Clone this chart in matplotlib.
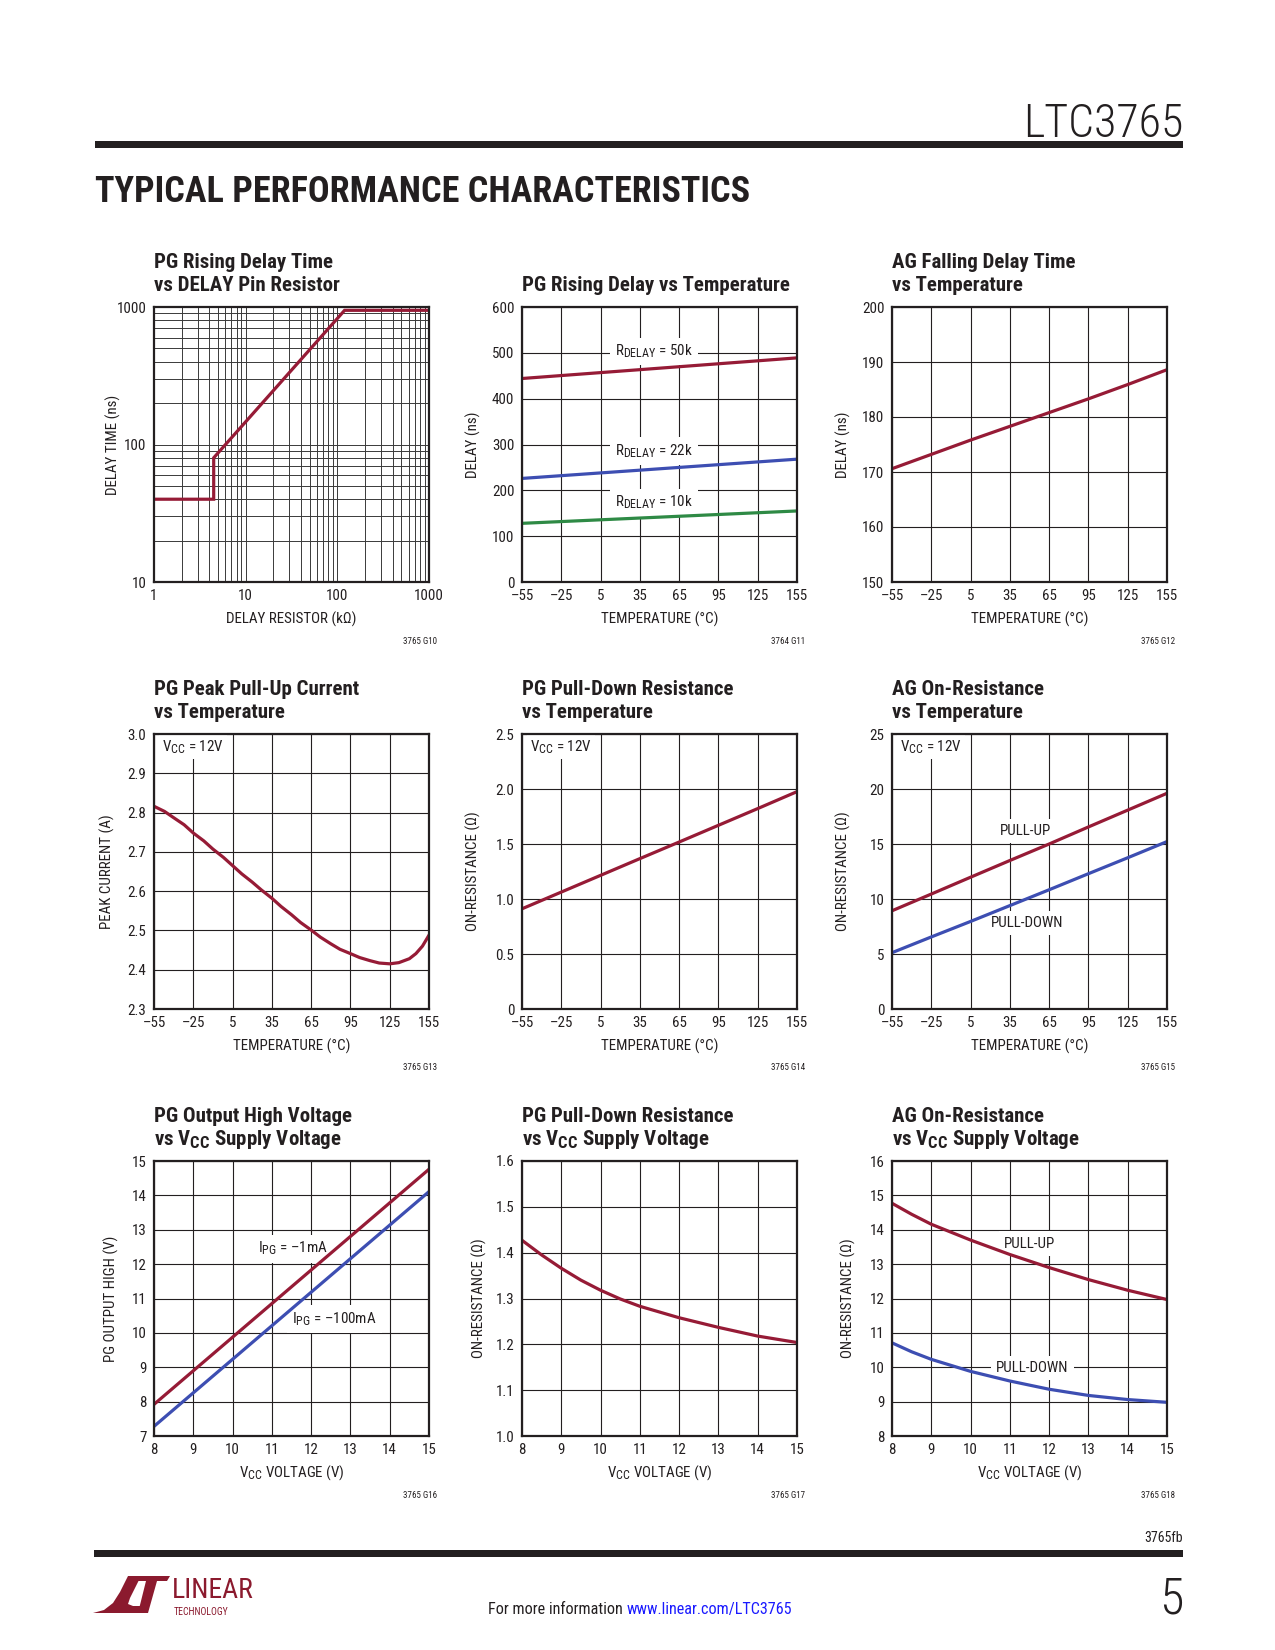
import matplotlib
matplotlib.use('Agg')
import matplotlib.pyplot as plt
from matplotlib import font_manager as fm
from matplotlib.patches import Polygon, Rectangle
from matplotlib.ticker import FixedLocator, FixedFormatter, NullFormatter, LogLocator

try:
    import matplotlib._mathtext as _mt
    _mt.SHRINK_FACTOR = 0.8
except Exception:
    pass

_names = {f.name for f in fm.fontManager.ttflist}


def pick(cands, default='DejaVu Sans'):
    for c in cands:
        if c in _names:
            return c
    return default


BODY = pick(['Roboto Condensed', 'Archivo Narrow', 'PT Sans Narrow', 'IBM Plex Sans Condensed',
             'Liberation Sans Narrow', 'Liberation Sans'])
FONT = [BODY, 'DejaVu Sans']
plt.rcParams['font.family'] = FONT
plt.rcParams['mathtext.fontset'] = 'custom'
plt.rcParams['mathtext.rm'] = BODY
plt.rcParams['mathtext.it'] = BODY + ':italic'
plt.rcParams['mathtext.bf'] = BODY + ':bold'

INK = '#231f20'
RED = '#961b36'
BLUE = '#3d4eb2'
GREEN = '#2e8a45'

# ---------------- data ----------------
temp_ticks = [-55, -25, 5, 35, 65, 95, 125, 155]
temp_tick_labels = ['\u201355', '\u201325', '5', '35', '65', '95', '125', '155']
vcc_ticks = [8, 9, 10, 11, 12, 13, 14, 15]
vcc_tick_labels = ['8', '9', '10', '11', '12', '13', '14', '15']

# G10: PG rising delay vs DELAY pin resistor (log-log)
res_kohm = [1.06, 4.48, 4.48, 120, 1000]
delay_vs_res_ns = [40, 40, 80, 946, 946]
g10_xticks = [1, 10, 100, 1000]
g10_xlabels = ['1', '10', '100', '1000']
g10_yticks = [10, 100, 1000]
g10_ylabels = ['10', '100', '1000']

# G11: PG rising delay vs temperature
g11_temp = [-55, 155]
delay_50k = [444, 489]
delay_22k = [226, 268]
delay_10k = [128, 155]
g11_yticks = [0, 100, 200, 300, 400, 500, 600]
g11_ylabels = ['0', '100', '200', '300', '400', '500', '600']

# G12: AG falling delay vs temperature
g12_temp = [-55, -25, 5, 35, 65, 95, 125, 155]
ag_fall_delay = [170.6, 173.2, 175.8, 178.3, 180.8, 183.3, 185.9, 188.6]
g12_yticks = [150, 160, 170, 180, 190, 200]
g12_ylabels = ['150', '160', '170', '180', '190', '200']

# G13: PG peak pull-up current vs temperature
g13_temp = [-55, -47, -40, -32, -25, -17, -10, -2, 5, 12, 20, 27, 35, 42, 50, 57, 65, 72,
            80, 87, 95, 102, 110, 117, 125, 132, 140, 145, 150, 155]
peak_current = [2.816, 2.803, 2.787, 2.769, 2.748, 2.728, 2.707, 2.686, 2.665, 2.644,
                2.623, 2.603, 2.582, 2.561, 2.540, 2.520, 2.501, 2.483, 2.466, 2.452,
                2.441, 2.431, 2.423, 2.417, 2.415, 2.418, 2.428, 2.441, 2.460, 2.488]
g13_yticks = [2.3, 2.4, 2.5, 2.6, 2.7, 2.8, 2.9, 3.0]
g13_ylabels = ['2.3', '2.4', '2.5', '2.6', '2.7', '2.8', '2.9', '3.0']

# G14: PG pull-down resistance vs temperature
g14_temp = [-55, -25, 5, 35, 65, 95, 125, 155]
pg_pd_res_t = [0.911, 1.063, 1.215, 1.367, 1.518, 1.670, 1.822, 1.976]
g14_yticks = [0, 0.5, 1.0, 1.5, 2.0, 2.5]
g14_ylabels = ['0', '0.5', '1.0', '1.5', '2.0', '2.5']

# G15: AG on-resistance vs temperature
g15_temp = [-55, -25, 5, 35, 65, 95, 125, 155]
ag_pullup_t = [8.93, 10.45, 11.98, 13.50, 15.00, 16.55, 18.08, 19.61]
ag_pulldown_t = [5.12, 6.55, 7.96, 9.40, 10.84, 12.30, 13.75, 15.22]
g15_yticks = [0, 5, 10, 15, 20, 25]
g15_ylabels = ['0', '5', '10', '15', '20', '25']

# G16: PG output high voltage vs VCC
g16_vcc = [8, 15]
pg_high_1ma = [7.92, 14.76]
pg_high_100ma = [7.28, 14.11]
g16_yticks = [7, 8, 9, 10, 11, 12, 13, 14, 15]
g16_ylabels = ['7', '8', '9', '10', '11', '12', '13', '14', '15']

# G17: PG pull-down resistance vs VCC
g17_vcc = [8, 8.5, 9, 9.5, 10, 10.5, 11, 12, 13, 14, 15]
pg_pd_res_v = [1.427, 1.395, 1.366, 1.340, 1.318, 1.299, 1.283, 1.258, 1.237, 1.218, 1.204]
g17_yticks = [1.0, 1.1, 1.2, 1.3, 1.4, 1.5, 1.6]
g17_ylabels = ['1.0', '1.1', '1.2', '1.3', '1.4', '1.5', '1.6']

# G18: AG on-resistance vs VCC
g18_vcc = [8, 8.5, 9, 10, 11, 12, 13, 14, 15]
ag_pullup_v = [14.77, 14.45, 14.16, 13.70, 13.28, 12.90, 12.55, 12.24, 11.97]
ag_pulldown_v = [10.71, 10.45, 10.23, 9.88, 9.60, 9.36, 9.18, 9.06, 8.98]
g18_yticks = [8, 9, 10, 11, 12, 13, 14, 15, 16]
g18_ylabels = ['8', '9', '10', '11', '12', '13', '14', '15', '16']

# ---------------- figure ----------------
W, H = 1275, 1650
fig = plt.figure(figsize=(W / 100, H / 100), dpi=100)
fig.patch.set_facecolor('white')

ov = fig.add_axes([0, 0, 1, 1])
ov.set_xlim(0, W)
ov.set_ylim(H, 0)
ov.axis('off')
ov.set_zorder(-1)

COLS = [(154, 429), (522, 797), (892, 1167)]
ROWS = [(307, 582), (734, 1009), (1161, 1436)]

LABEL_BOX = dict(boxstyle='square,pad=0.35', facecolor='white', edgecolor='none')
FS = 10.8


def make_axes(r, c):
    x0, x1 = COLS[c]
    y0, y1 = ROWS[r]
    return fig.add_axes([x0 / W, 1 - y1 / H, (x1 - x0) / W, (y1 - y0) / H])


def style(ax, xlabel, ylabel, ylab_off):
    ax.tick_params(which='both', length=0, labelsize=FS, colors=INK)
    ax.tick_params(axis='x', pad=5)
    ax.tick_params(axis='y', pad=5.5)
    for s in ax.spines.values():
        s.set_linewidth(1.6)
        s.set_color(INK)
    ax.set_xlabel(xlabel, fontsize=FS, va='center', color=INK)
    ax.xaxis.set_label_coords(0.5, -37 / 275)
    ax.set_ylabel(ylabel, fontsize=FS, va='center', color=INK)
    ax.yaxis.set_label_coords(-ylab_off / 275, 0.5)


def lin_axes(ax, xlim, xt, xtl, ylim, yt, ytl):
    ax.set_xlim(*xlim)
    ax.set_ylim(*ylim)
    ax.set_xticks(xt)
    ax.set_xticklabels(xtl)
    ax.set_yticks(yt)
    ax.set_yticklabels(ytl)
    ax.grid(True, color=INK, lw=0.8)
    ax.set_axisbelow(True)


def titles(r, c, lines):
    x0 = COLS[c][0]
    base = ROWS[r][0] - 16
    for i, t in enumerate(reversed(lines)):
        ov.text(x0, base - 23 * i, t, fontsize=15, fontweight='bold', color=INK,
                ha='left', va='baseline')


def code(r, c, txt):
    ov.text(COLS[c][1] + 8, ROWS[r][1] + 59, txt, fontsize=6.5, color=INK, ha='right', va='center')


def in_label(ax, x, y, s):
    ax.text(x, y, s, fontsize=FS, color=INK, ha='center', va='center', bbox=LABEL_BOX, zorder=1.6)


def vcc_label(ax):
    ax.text(8 / 275, 1 - 13 / 275, r'V$_{\mathregular{CC}}$ = 12V', transform=ax.transAxes,
            fontsize=FS, color=INK, ha='left', va='center', zorder=1.6,
            bbox=dict(boxstyle='square,pad=0.2', facecolor='white', edgecolor='none'))


LW = 2.3
TEMP_X = 'TEMPERATURE (\u00b0C)'
VCC_X = r'V$_{\mathregular{CC}}$ VOLTAGE (V)'
DASH = '\u2013'

# G10
ax = make_axes(0, 0)
ax.set_xscale('log')
ax.set_yscale('log')
ax.set_xlim(1, 1000)
ax.set_ylim(10, 1000)
ax.xaxis.set_major_locator(FixedLocator(g10_xticks))
ax.xaxis.set_major_formatter(FixedFormatter(g10_xlabels))
ax.yaxis.set_major_locator(FixedLocator(g10_yticks))
ax.yaxis.set_major_formatter(FixedFormatter(g10_ylabels))
ax.xaxis.set_minor_locator(LogLocator(base=10, subs=range(2, 10)))
ax.yaxis.set_minor_locator(LogLocator(base=10, subs=range(2, 10)))
ax.xaxis.set_minor_formatter(NullFormatter())
ax.yaxis.set_minor_formatter(NullFormatter())
ax.grid(True, which='both', color='#3a3a3a', lw=0.7)
ax.set_axisbelow(True)
ax.plot(res_kohm, delay_vs_res_ns, color=RED, lw=LW, solid_joinstyle='miter')
style(ax, 'DELAY RESISTOR (k\u03a9)', 'DELAY TIME (ns)', 41)
titles(0, 0, ['PG Rising Delay Time', 'vs DELAY Pin Resistor'])
code(0, 0, '3765 G10')

# G11
ax = make_axes(0, 1)
lin_axes(ax, (-55, 155), temp_ticks, temp_tick_labels, (0, 600), g11_yticks, g11_ylabels)
ax.plot(g11_temp, delay_50k, color=RED, lw=LW)
ax.plot(g11_temp, delay_22k, color=BLUE, lw=LW)
ax.plot(g11_temp, delay_10k, color=GREEN, lw=LW)
for yv, k in [(503, '50k'), (286, '22k'), (173, '10k')]:
    in_label(ax, 46, yv, r'R$_{\mathregular{DELAY}}$ = ' + k)
style(ax, TEMP_X, 'DELAY (ns)', 49)
titles(0, 1, ['PG Rising Delay vs Temperature'])
code(0, 1, '3764 G11')

# G12
ax = make_axes(0, 2)
lin_axes(ax, (-55, 155), temp_ticks, temp_tick_labels, (150, 200), g12_yticks, g12_ylabels)
ax.plot(g12_temp, ag_fall_delay, color=RED, lw=LW)
style(ax, TEMP_X, 'DELAY (ns)', 49)
titles(0, 2, ['AG Falling Delay Time', 'vs Temperature'])
code(0, 2, '3765 G12')

# G13
ax = make_axes(1, 0)
lin_axes(ax, (-55, 155), temp_ticks, temp_tick_labels, (2.3, 3.0), g13_yticks, g13_ylabels)
ax.plot(g13_temp, peak_current, color=RED, lw=LW)
vcc_label(ax)
style(ax, TEMP_X, 'PEAK CURRENT (A)', 47)
titles(1, 0, ['PG Peak Pull-Up Current', 'vs Temperature'])
code(1, 0, '3765 G13')

# G14
ax = make_axes(1, 1)
lin_axes(ax, (-55, 155), temp_ticks, temp_tick_labels, (0, 2.5), g14_yticks, g14_ylabels)
ax.plot(g14_temp, pg_pd_res_t, color=RED, lw=LW)
vcc_label(ax)
style(ax, TEMP_X, 'ON-RESISTANCE (\u03a9)', 49)
titles(1, 1, ['PG Pull-Down Resistance', 'vs Temperature'])
code(1, 1, '3765 G14')

# G15
ax = make_axes(1, 2)
lin_axes(ax, (-55, 155), temp_ticks, temp_tick_labels, (0, 25), g15_yticks, g15_ylabels)
ax.plot(g15_temp, ag_pullup_t, color=RED, lw=LW)
ax.plot(g15_temp, ag_pulldown_t, color=BLUE, lw=LW)
in_label(ax, 47, 16.2, 'PULL-UP')
in_label(ax, 48, 7.8, 'PULL-DOWN')
vcc_label(ax)
style(ax, TEMP_X, 'ON-RESISTANCE (\u03a9)', 49)
titles(1, 2, ['AG On-Resistance', 'vs Temperature'])
code(1, 2, '3765 G15')

# G16
ax = make_axes(2, 0)
lin_axes(ax, (8, 15), vcc_ticks, vcc_tick_labels, (7, 15), g16_yticks, g16_ylabels)
ax.plot(g16_vcc, pg_high_1ma, color=RED, lw=LW)
ax.plot(g16_vcc, pg_high_100ma, color=BLUE, lw=LW)
in_label(ax, 11.54, 12.45, r'I$_{\mathregular{PG}}$ = ' + DASH + '1mA')
in_label(ax, 12.6, 10.4, r'I$_{\mathregular{PG}}$ = ' + DASH + '100mA')
style(ax, VCC_X, 'PG OUTPUT HIGH (V)', 43)
titles(2, 0, ['PG Output High Voltage', r'vs V$_{\mathregular{CC}}$ Supply Voltage'])
code(2, 0, '3765 G16')

# G17
ax = make_axes(2, 1)
lin_axes(ax, (8, 15), vcc_ticks, vcc_tick_labels, (1.0, 1.6), g17_yticks, g17_ylabels)
ax.plot(g17_vcc, pg_pd_res_v, color=RED, lw=LW)
style(ax, VCC_X, 'ON-RESISTANCE (\u03a9)', 43)
titles(2, 1, ['PG Pull-Down Resistance', r'vs V$_{\mathregular{CC}}$ Supply Voltage'])
code(2, 1, '3765 G17')

# G18
ax = make_axes(2, 2)
lin_axes(ax, (8, 15), vcc_ticks, vcc_tick_labels, (8, 16), g18_yticks, g18_ylabels)
ax.plot(g18_vcc, ag_pullup_v, color=RED, lw=LW)
ax.plot(g18_vcc, ag_pulldown_v, color=BLUE, lw=LW)
in_label(ax, 11.5, 13.6, 'PULL-UP')
in_label(ax, 11.57, 9.98, 'PULL-DOWN')
style(ax, VCC_X, 'ON-RESISTANCE (\u03a9)', 44)
titles(2, 2, ['AG On-Resistance', r'vs V$_{\mathregular{CC}}$ Supply Voltage'])
code(2, 2, '3765 G18')

# ---------------- page decorations ----------------
ov.text(1183, 137, 'LTC3765', fontsize=33, color=INK, ha='right', va='baseline',
        fontweight='light')
ov.add_patch(Rectangle((95, 141), 1088, 7, facecolor=INK, edgecolor='none'))
ov.text(95, 202, 'TYPICAL PERFORMANCE CHARACTERISTICS', fontsize=26, fontweight='black',
        color=INK, ha='left', va='baseline')

ov.text(1183, 1538, '3765fb', fontsize=10, color=INK, ha='right', va='center')
ov.add_patch(Rectangle((94, 1550), 1089, 7, facecolor=INK, edgecolor='none'))
ov.text(1183, 1614, '5', fontsize=36, color=INK, ha='right', va='baseline', fontweight='light')
t1 = ov.text(488, 1614, 'For more information ', fontsize=11.6, color=INK, ha='left', va='baseline')
ov.annotate('www.linear.com/LTC3765', xy=(1, 0), xycoords=t1, fontsize=11.6, color='#1a1aff',
            ha='left', va='bottom')

LOGO = '#8b1a2e'
ov.add_patch(Polygon([(93, 1613), (104, 1610), (113, 1603), (120, 1592), (126, 1580),
                      (128, 1576), (141, 1576), (136, 1586), (130, 1598), (128, 1604),
                      (133, 1606), (143, 1606), (140, 1613)],
                     closed=True, facecolor=LOGO, edgecolor='none'))
ov.add_patch(Polygon([(136, 1576), (170, 1576), (167, 1581), (157, 1581), (148, 1613),
                      (138, 1613), (146, 1581), (134, 1581)],
                     closed=True, facecolor=LOGO, edgecolor='none'))
ov.text(172, 1598, 'LINEAR', fontsize=20, color=LOGO, ha='left', va='baseline')
ov.text(174, 1615, 'TECHNOLOGY', fontsize=7, color=LOGO, ha='left', va='baseline')

fig.savefig('out.png', dpi=100, facecolor='white')
